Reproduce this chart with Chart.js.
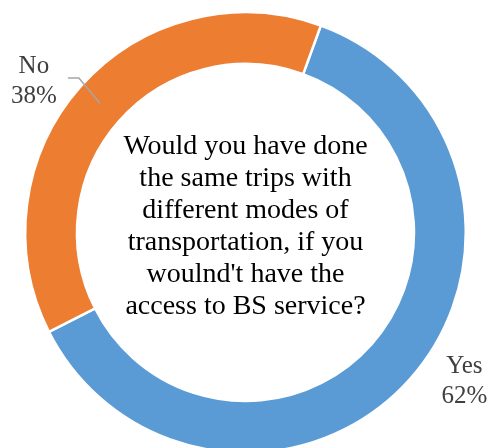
<!DOCTYPE html>
<html>
<head>
<meta charset="utf-8">
<script src="https://cdn.jsdelivr.net/npm/chart.js@4.4.1/dist/chart.umd.min.js"></script>
<style>
  html, body { margin: 0; padding: 0; background: #fff; }
  #wrap { width: 488px; height: 448px; overflow: hidden; position: relative; }
  #wrap canvas { display: block; }
</style>
</head>
<body>
<div id="wrap"><canvas id="chart" width="488" height="454"></canvas></div>
<script>
const answers = ['Yes', 'No'];
const shares = [62, 38];
const sliceColors = ['#5B9BD5', '#ED7D31'];
const questionLines = [
  'Would you have done',
  'the same trips with',
  'different modes of',
  'transportation, if you',
  "woulnd't have the",
  'access to BS service?'
];

// question text in the hole of the ring
const centerText = {
  id: 'centerText',
  afterDraw(chart) {
    const arc = chart.getDatasetMeta(0).data[0];
    if (!arc) return;
    const { ctx } = chart;
    ctx.save();
    ctx.font = '28px "Liberation Serif", "Times New Roman", serif';
    ctx.fillStyle = '#000';
    ctx.textAlign = 'center';
    ctx.textBaseline = 'alphabetic';
    const n = questionLines.length;
    questionLines.forEach((line, i) => {
      ctx.fillText(line, arc.x, arc.y + 1 + (i - (n - 1) / 2) * 32);
    });
    ctx.restore();
  }
};

// category name + percentage outside each slice
const sliceLabels = {
  id: 'sliceLabels',
  afterDraw(chart, args, opts) {
    const meta = chart.getDatasetMeta(0);
    const { ctx } = chart;
    const total = shares.reduce((a, b) => a + b, 0);
    ctx.save();
    ctx.font = '25px "Liberation Serif", "Times New Roman", serif';
    ctx.textAlign = 'center';
    ctx.textBaseline = 'alphabetic';
    meta.data.forEach((arc, i) => {
      const mid = (arc.startAngle + arc.endAngle) / 2;
      const a = mid + opts.turn[i] * Math.PI / 180;
      const r = arc.outerRadius + opts.gap[i];
      const lx = arc.x + Math.cos(a) * r;
      const ly = arc.y + Math.sin(a) * r;
      if (opts.leader[i]) {
        const rm = (arc.innerRadius + arc.outerRadius) / 2;
        ctx.strokeStyle = '#A6A6A6';
        ctx.lineWidth = 1.5;
        ctx.beginPath();
        ctx.moveTo(arc.x + Math.cos(mid) * rm, arc.y + Math.sin(mid) * rm);
        ctx.lineTo(lx + 45, ly - 3);
        ctx.lineTo(lx + 34, ly - 3);
        ctx.stroke();
      }
      ctx.fillStyle = '#404040';
      const pct = Math.round(shares[i] / total * 100) + '%';
      ctx.fillText(answers[i], lx, ly - 8);
      ctx.fillText(pct, lx, ly + 22);
    });
    ctx.restore();
  }
};

new Chart(document.getElementById('chart'), {
  type: 'doughnut',
  data: {
    labels: answers,
    datasets: [{
      data: shares,
      backgroundColor: sliceColors,
      borderColor: '#ffffff',
      borderWidth: 2.5
    }]
  },
  options: {
    responsive: false,
    animation: false,
    rotation: 20,
    cutout: '76.5%',
    layout: { padding: { left: 24, right: 21, top: 11, bottom: 0 } },
    plugins: {
      legend: { display: false },
      tooltip: { enabled: false },
      sliceLabels: {
        turn: [-7.5, -6],
        gap: [44, 40],
        leader: [false, true]
      }
    }
  },
  plugins: [centerText, sliceLabels]
});
</script>
</body>
</html>
